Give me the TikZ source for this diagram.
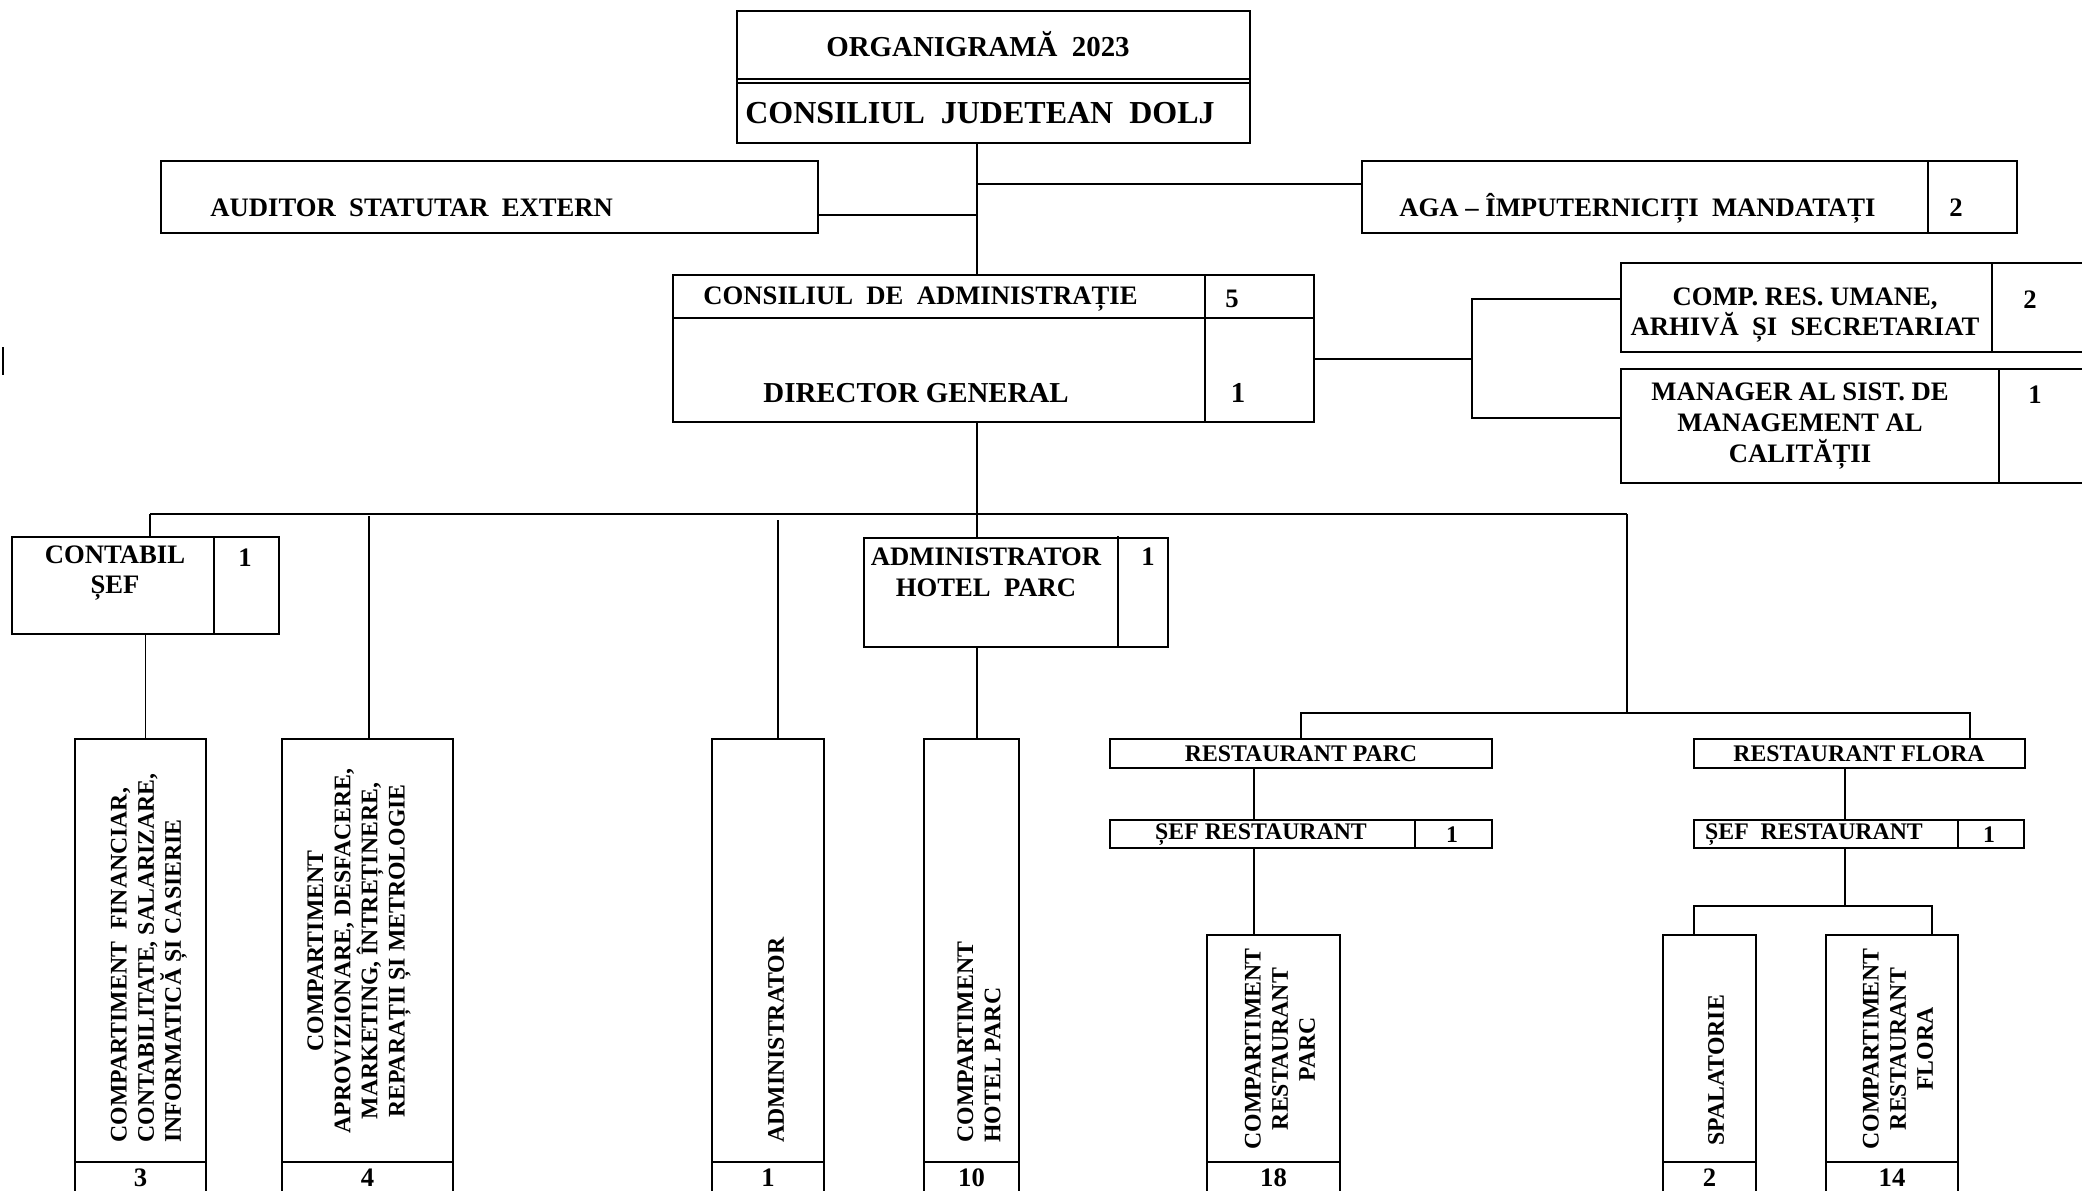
\documentclass[tikz,border=0pt]{standalone}
\usepackage{fontspec}
\setmainfont{Liberation Serif}
\begin{document}
\begin{tikzpicture}[x=0.45pt,y=-0.45pt,
    box/.style 2 args={draw,line width=1.1pt,inner sep=0pt,outer sep=0pt,anchor=north west,
        minimum width=#1*0.45pt,minimum height=#2*0.45pt},
    ln/.style={line width=0.75pt},
    cut/.style={line width=1.1pt},
    lbl/.style={font=\fontsize{12}{13.8}\selectfont\bfseries,align=center,inner sep=0pt},
    big/.style={font=\fontsize{13}{15}\selectfont\bfseries,inner sep=0pt},
    sm/.style={font=\fontsize{10.7}{12.2}\selectfont\bfseries,align=center,inner sep=0pt},
    vt/.style={font=\fontsize{10.7}{12.2}\selectfont\bfseries,rotate=90,inner sep=0pt}]
    \useasboundingbox (0,0) rectangle (2082,1190);

    % top
    \node[box={513}{132}] (org) at (737,11) {};
    \draw[ln] (org.west |- 0,79) -- (org.east |- 0,79);
    \draw[ln] (org.west |- 0,83) -- (org.east |- 0,83);
    \node[big] (orgt) at (978,44) {ORGANIGRAMĂ\ \ 2023};
    \node[font=\fontsize{14.4}{16}\selectfont\bfseries,inner sep=0pt] (cjd) at (980,113) {CONSILIUL\ \ JUDETEAN\ \ DOLJ};

    \node[box={657}{72}] (aud) at (161,161) {};
    \node[lbl,anchor=west] (audt) at (210,208) {AUDITOR\ \ STATUTAR\ \ EXTERN};

    \node[box={655}{72}] (aga) at (1362,161) {};
    \draw[cut] (aga.north -| 1928,0) -- (aga.south -| 1928,0);
    \node[lbl,anchor=west] (agat) at (1399,208) {AGA – ÎMPUTERNICIȚI\ \ MANDATAȚI};
    \node[lbl] (agan) at (1956,208) {2};

    \node[box={641}{147}] (ca) at (673,275) {};
    \draw[cut] (ca.west |- 0,318) -- (ca.east |- 0,318);
    \draw[cut] (ca.north -| 1205,0) -- (ca.south -| 1205,0);
    \node[lbl,anchor=west] (cat) at (703,299) {CONSILIUL\ \ DE\ \ ADMINISTRAȚIE};
    \node[lbl] (can) at (1232,299) {5};
    \node[big,anchor=west] (dgt) at (763,393) {DIRECTOR GENERAL};
    \node[big] (dgn) at (1238,393) {1};

    \node[box={479}{89}] (hr) at (1621,263) {};
    \draw[cut] (hr.north -| 1992,0) -- (hr.south -| 1992,0);
    \node[lbl] (hrt) at (1805,315) {COMP. RES. UMANE,\\ARHIVĂ\ \ ȘI\ \ SECRETARIAT};
    \node[lbl] (hrn) at (2030,300) {2};

    \node[box={479}{114}] (qm) at (1621,369) {};
    \draw[cut] (qm.north -| 1999,0) -- (qm.south -| 1999,0);
    \node[lbl] (qmt) at (1800,426) {MANAGER AL SIST. DE\\MANAGEMENT AL\\CALITĂȚII};
    \node[lbl] (qmn) at (2035,395) {1};

    \draw[ln] (3,347) -- (3,375);

    % middle row
    \node[box={267}{97}] (cs) at (12,537) {};
    \draw[cut] (cs.north -| 214,0) -- (cs.south -| 214,0);
    \node[lbl] (cst) at (115,573) {CONTABIL\\ȘEF};
    \node[lbl] (csn) at (245,558) {1};

    \node[box={304}{109}] (adh) at (864,538) {};
    \draw[cut] (1118,536) -- (1118,648);
    \node[lbl] (adht) at (986,572) {ADMINISTRATOR\\HOTEL\ \ PARC};
    \node[lbl] (adhn) at (1148,557) {1};

    \node[box={382}{29}] (rp) at (1110,739) {};
    \node[sm] (rpt) at (1301,754) {RESTAURANT PARC};
    \node[box={331}{29}] (rf) at (1694,739) {};
    \node[sm] (rft) at (1859,754) {RESTAURANT FLORA};
    \node[box={382}{28}] (srp) at (1110,820) {};
    \draw[cut] (srp.north -| 1415,0) -- (srp.south -| 1415,0);
    \node[sm] (srpt) at (1261,835) {ȘEF RESTAURANT};
    \node[sm] (srpn) at (1452,835) {1};
    \node[box={330}{28}] (srf) at (1694,820) {};
    \draw[cut] (srf.north -| 1958,0) -- (srf.south -| 1958,0);
    \node[sm] (srft) at (1814,835) {ȘEF\ \ RESTAURANT};
    \node[sm] (srfn) at (1989,835) {1};

    % bottom row
    \node[box={131}{461}] (fin) at (75,739) {};
    \node[box={171}{461}] (apr) at (282,739) {};
    \node[box={112}{461}] (adm) at (712,739) {};
    \node[box={95}{461}] (hot) at (924,739) {};
    \node[box={133}{265}] (crp) at (1207,935) {};
    \node[box={93}{265}] (spl) at (1663,935) {};
    \node[box={132}{265}] (crf) at (1826,935) {};
    \foreach \b/\n in {fin/3,apr/4,adm/1,hot/10,crp/18,spl/2,crf/14}{
        \draw[cut] (\b.west |- 0,1162) -- (\b.east |- 0,1162);
        \node[lbl] (n\b) at (\b.center |- 0,1178) {\n};
    }
    \node[vt,anchor=west,align=left] (fint) at (149,1143) {COMPARTIMENT\ \ FINANCIAR,\\CONTABILITATE, SALARIZARE,\\INFORMATICĂ ȘI CASIERIE};
    \node[vt,align=center] (aprt) at (359,951) {COMPARTIMENT\\APROVIZIONARE, DESFACERE,\\MARKETING, ÎNTREȚINERE,\\REPARAȚII ȘI METROLOGIE};
    \node[vt,anchor=west] (admt) at (776,1143) {ADMINISTRATOR};
    \node[vt,anchor=west,align=left] (hott) at (979,1143) {COMPARTIMENT\\HOTEL PARC};
    \node[vt,align=center] (crpt) at (1280,1049) {COMPARTIMENT\\RESTAURANT\\PARC};
    \node[vt,anchor=west] (splt) at (1716,1146) {SPALATORIE};
    \node[vt,align=center] (crft) at (1898,1049) {COMPARTIMENT\\RESTAURANT\\FLORA};

    % connectors
    \coordinate (spine) at (977,184);
    \coordinate (audj) at (977,215);
    \draw[ln] (org.south -| spine) -- (spine |- ca.north);
    \draw[ln] (spine) -- (spine -| aga.west);
    \draw[ln] (audj -| aud.east) -- (audj);
    \coordinate (rj) at (1472,359);
    \coordinate (rjt) at (1472,299);
    \coordinate (rjb) at (1472,418);
    \draw[ln] (rj -| ca.east) -- (rj);
    \draw[ln] (rjt -| hr.west) -- (rjt) -- (rjb) -- (rjb -| qm.west);

    \coordinate (busl) at (150,514);
    \coordinate (busr) at (1627,514);
    \coordinate (s2) at (369,516);
    \coordinate (s3) at (778,520);
    \draw[ln] (busl) -- (busr);
    \draw[ln] (busl) -- (busl |- cs.north);
    \draw[ln] (s2) -- (s2 |- apr.north);
    \draw[ln] (s3) -- (s3 |- adm.north);
    \draw[ln] (ca.south -| spine) -- (spine |- adh.north);
    \draw[ln] (cs.south) -- (cs.south |- fin.north);
    \draw[ln] (adh.south -| spine) -- (spine |- hot.north);

    \coordinate (rb) at (1627,713);
    \coordinate (rbr) at (1970,713);
    \draw[ln] (busr) -- (rb);
    \draw[ln] (rp.north) -- (rp.north |- rb) -- (rbr) -- (rbr |- rf.north);
    \coordinate (xp) at (1254,800);
    \draw[ln] (rp.south -| xp) -- (srp.north -| xp);
    \draw[ln] (srp.south -| xp) -- (crp.north -| xp);
    \coordinate (fj) at (1845,906);
    \coordinate (fjl) at (1694,906);
    \coordinate (fjr) at (1932,906);
    \draw[ln] (rf.south -| fj) -- (srf.north -| fj);
    \draw[ln] (srf.south -| fj) -- (fj);
    \draw[ln] (fjl |- spl.north) -- (fjl) -- (fjr) -- (fjr |- crf.north);
\end{tikzpicture}
\end{document}
